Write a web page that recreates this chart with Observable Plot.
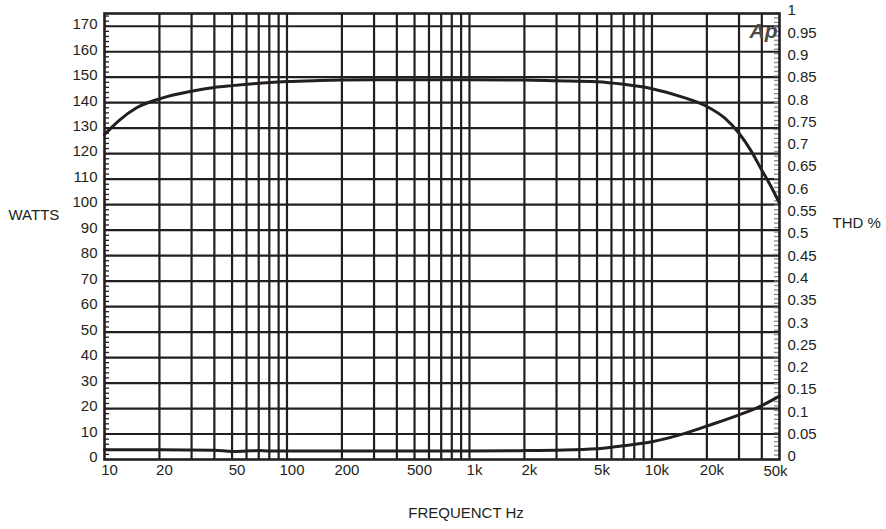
<!DOCTYPE html>
<html>
<head>
<meta charset="utf-8">
<script src="https://cdn.jsdelivr.net/npm/d3@7"></script>
<script src="https://cdn.jsdelivr.net/npm/@observablehq/plot@0.6"></script>
<style>
  html, body { margin: 0; padding: 0; background: #fff; }
</style>
</head>
<body>
<div id="chart"></div>
<script>
// ---- data ----
const powerFreq = [10, 12, 15, 20, 30, 40, 50, 70, 100, 150, 200, 300, 500, 700, 1000, 2000, 3000, 5000, 7000, 10000, 15000, 20000, 25000, 30000, 35000, 40000, 45000, 50000];
const powerWatts = [127.5, 133, 138, 141.5, 144.5, 146, 146.7, 147.6, 148.3, 148.7, 148.9, 149, 149, 149, 149, 148.9, 148.6, 148.2, 147.2, 145.5, 142, 138.5, 134, 128, 121, 113.5, 107, 100.5];

const thdFreq = [10, 20, 40, 50, 60, 70, 80, 100, 200, 500, 1000, 2000, 3000, 5000, 7000, 10000, 15000, 20000, 30000, 40000, 50000];
const thdPct = [0.022, 0.022, 0.021, 0.018, 0.019, 0.020, 0.019, 0.019, 0.019, 0.019, 0.019, 0.020, 0.021, 0.024, 0.031, 0.040, 0.058, 0.075, 0.100, 0.121, 0.142];

const xTickValues = [10, 20, 50, 100, 200, 500, 1000, 2000, 5000, 10000, 20000];
const xTickLast = [50000];
const xGrid = [20,30,40,50,60,70,80,90,100,200,300,400,500,600,700,800,900,1000,2000,3000,4000,5000,6000,7000,8000,9000,10000,20000,30000,40000];
const wattTicks = [0,10,20,30,40,50,60,70,80,90,100,110,120,130,140,150,160,170];
const wattGrid = [10,20,30,40,50,60,70,80,90,100,110,120,130,140,150,160,170];
const wattMinor = d3.range(0, 176, 2);
const thdTicks = d3.range(0, 21).map(i => i * 0.05);
const thdMinor = d3.range(0, 101).map(i => i * 0.01);
const wattMax = 175; // THD 1% maps to top of watts scale

// ---- layout ----
const W = 886, H = 529;
const mL = 104, mR = 107, mT = 13, mB = 70;
const plotW = W - mL - mR;
const ink = "#231f20";
const fmtK = d => d >= 1000 ? (d / 1000) + "k" : String(d);
const fmtThd = d => String(+(d / wattMax).toFixed(2));

const powerData = powerFreq.map((f, i) => ({f, w: powerWatts[i]}));
const thdData = thdFreq.map((f, i) => ({f, t: thdPct[i]}));

const chart = Plot.plot({
  width: W, height: H,
  marginLeft: mL, marginRight: mR, marginTop: mT, marginBottom: mB,
  style: {fontFamily: "'Liberation Sans', Arial, sans-serif", fontSize: "15px", background: "#fff", color: ink},
  x: {type: "log", domain: [10, 50000], axis: null},
  y: {domain: [0, wattMax], axis: null},
  marks: [
    Plot.ruleX(xGrid, {x: d => d, stroke: ink, strokeWidth: 2.2}),
    Plot.ruleY(wattGrid, {y: d => d, stroke: ink, strokeWidth: 2.2}),
    Plot.tickY(wattMinor, {y: d => d, stroke: ink, strokeWidth: 1.3, insetRight: plotW - 5}),
    Plot.tickY(thdMinor.map(t => t * wattMax), {y: d => d, stroke: "#8a8a8a", strokeWidth: 1.3, insetLeft: plotW - 5}),
    Plot.frame({stroke: ink, strokeWidth: 2.6}),
    Plot.line(powerData, {x: "f", y: "w", stroke: ink, strokeWidth: 3, curve: "monotone-x"}),
    Plot.line(thdData, {x: "f", y: d => d.t * wattMax, stroke: ink, strokeWidth: 3, curve: "monotone-x"}),
    Plot.axisY(wattTicks, {anchor: "left", tickSize: 0, tickPadding: 7, dy: -2, label: null, fill: ink}),
    Plot.axisY(thdTicks.map(t => t * wattMax), {anchor: "right", tickSize: 0, tickPadding: 8, dy: -3, tickFormat: fmtThd, label: null, fill: ink}),
    Plot.text(xTickValues, {x: d => d, frameAnchor: "bottom", text: fmtK, dx: 5, dy: 15, fontSize: 15, fill: ink}),
    Plot.text(xTickLast, {x: d => d, frameAnchor: "bottom", text: fmtK, dx: -4, dy: 16, fontSize: 15, fill: ink}),
    Plot.text(["WATTS"], {frameAnchor: "left", text: d => d, textAnchor: "start", dx: -96, dy: -21, fontSize: 15, fill: ink}),
    Plot.text(["THD %"], {frameAnchor: "right", text: d => d, textAnchor: "start", dx: 53, dy: -13, fontSize: 15, fill: ink}),
    Plot.text(["FREQUENCT Hz"], {frameAnchor: "bottom", text: d => d, dx: 24, dy: 58, fontSize: 15, fill: ink}),
    Plot.text(["Ap"], {frameAnchor: "top-right", text: d => d, textAnchor: "end", dx: -2, dy: 10, fontSize: 21, fontWeight: "bold", fontStyle: "italic", fill: "#4a4a4a", letterSpacing: "-3px"})
  ]
});
document.getElementById("chart").appendChild(chart);
</script>
</body>
</html>
